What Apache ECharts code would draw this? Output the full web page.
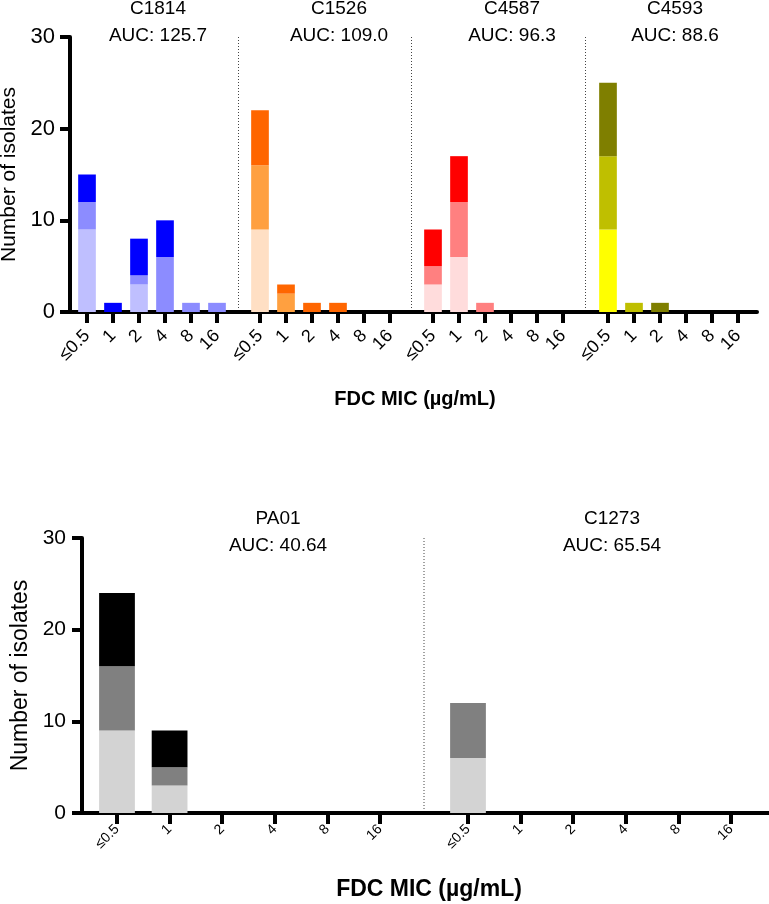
<!DOCTYPE html>
<html>
<head>
<meta charset="utf-8">
<script src="https://cdn.jsdelivr.net/npm/echarts@6/dist/echarts.min.js"></script>
<style>html,body{margin:0;padding:0;background:#fff;}#c{width:769px;height:904px;}</style>
</head>
<body>
<div id="c"></div>
<script>
// ---------- data ----------
var micCategories = ['≤0.5', '1', '2', '4', '8', '16'];
var yTicks = [0, 10, 20, 30];

var topStrains = ['C1814', 'C1526', 'C4587', 'C4593'];
var topAUC = ['125.7', '109.0', '96.3', '88.6'];
// three stacked layers per strain (light, medium, dark)
var c1814Light = [9, 0, 3, 0, 0, 0];
var c1814Mid   = [3, 0, 1, 6, 1, 1];
var c1814Dark  = [3, 1, 4, 4, 0, 0];
var c1526Light = [9, 0, 0, 0, 0, 0];
var c1526Mid   = [7, 2, 0, 0, 0, 0];
var c1526Dark  = [6, 1, 1, 1, 0, 0];
var c4587Light = [3, 6, 0, 0, 0, 0];
var c4587Mid   = [2, 6, 1, 0, 0, 0];
var c4587Dark  = [4, 5, 0, 0, 0, 0];
var c4593Light = [9, 0, 0, 0, 0, 0];
var c4593Mid   = [8, 1, 0, 0, 0, 0];
var c4593Dark  = [8, 0, 1, 0, 0, 0];

var bottomStrains = ['PA01', 'C1273'];
var bottomAUC = ['40.64', '65.54'];
var pa01Light  = [9, 3, 0, 0, 0, 0];
var pa01Mid    = [7, 2, 0, 0, 0, 0];
var pa01Dark   = [8, 4, 0, 0, 0, 0];
var c1273Light = [6, 0, 0, 0, 0, 0];
var c1273Mid   = [6, 0, 0, 0, 0, 0];
var c1273Dark  = [0, 0, 0, 0, 0, 0];

var topLayers = [
  [c1814Light, c1814Mid, c1814Dark],
  [c1526Light, c1526Mid, c1526Dark],
  [c4587Light, c4587Mid, c4587Dark],
  [c4593Light, c4593Mid, c4593Dark]
];
var bottomLayers = [
  [pa01Light, pa01Mid, pa01Dark],
  [c1273Light, c1273Mid, c1273Dark]
];

// ---------- styles ----------
var topColors = [
  ['#bfbfff', '#8c8cff', '#0000ff'],
  ['#ffdfc4', '#ffa040', '#ff6600'],
  ['#ffdcdc', '#ff8080', '#ff0000'],
  ['#ffff00', '#bfbf00', '#7f7f00']
];
var bottomColors = [
  ['#d3d3d3', '#808080', '#000000'],
  ['#d3d3d3', '#808080', '#000000']
];
var FONT = 'Liberation Sans, Arial, sans-serif';

// layout
var TOP = {axisX: 70, right: 757, yTop: 37, base: 312, panelLefts: [74, 247, 420, 595], panelW: 156,
           titleX: [153, 334, 507, 670], titleY: -10, titleSize: 19,
           labelSize: 18, labelMargin: 21, tickLen: 11,
           yLabelSize: 22, yLabelMargin: 15, yNameSize: 21, yNameGap: 49,
           xName: 'FDC MIC (µg/mL)', xNameX: 410, xNameY: 384, xNameSize: 20};
var BOT = {axisX: 82, right: 769, yTop: 538, base: 813, panelLefts: [90.7, 441.7], panelW: 315.6,
           titleX: [273, 607], titleY: 500, titleSize: 19,
           labelSize: 14, labelMargin: 14, tickLen: 11,
           yLabelSize: 21, yLabelMargin: 16, yNameSize: 23, yNameGap: 50,
           xName: 'FDC MIC (µg/mL)', xNameX: 424, xNameY: 873, xNameSize: 23};

var grids = [], xAxes = [], yAxes = [], series = [], titles = [], graphics = [];

function addBlock(L, strains, aucs, layers, colors) {
  var h = L.base - L.yTop;
  // main frame grid with y axis and continuous baseline
  var gi = grids.length;
  grids.push({left: L.axisX, top: L.yTop, width: L.right - L.axisX, height: h, outerBoundsMode: 'none', containLabel: false});
  xAxes.push({gridIndex: gi, type: 'category', data: [''], axisTick: {show: false}, axisLabel: {show: false},
              axisLine: {lineStyle: {color: '#000', width: 4}}});
  yAxes.push({gridIndex: gi, type: 'value', min: yTicks[0], max: yTicks[yTicks.length - 1], interval: yTicks[1] - yTicks[0],
              splitLine: {show: false},
              axisLine: {show: true, lineStyle: {color: '#000', width: 4}},
              axisTick: {show: true, inside: false, length: 10, lineStyle: {color: '#000', width: 4}},
              axisLabel: {fontSize: L.yLabelSize, color: '#000', fontFamily: FONT, margin: L.yLabelMargin},
              name: 'Number of isolates', nameLocation: 'middle', nameGap: L.yNameGap,
              nameTextStyle: {fontSize: L.yNameSize, color: '#000', fontFamily: FONT}});
  series.push({type: 'bar', xAxisIndex: gi, yAxisIndex: gi, data: [], silent: true});
  // panels
  strains.forEach(function (s, p) {
    var pi = grids.length;
    grids.push({left: L.panelLefts[p], top: L.yTop, width: L.panelW, height: h, outerBoundsMode: 'none', containLabel: false});
    xAxes.push({gridIndex: pi, type: 'category', data: micCategories,
                axisLine: {lineStyle: {color: '#000', width: 4}},
                axisTick: {show: true, alignWithLabel: true, length: L.tickLen, lineStyle: {color: '#000', width: 4}},
                axisLabel: {rotate: 45, fontSize: L.labelSize, color: '#000', fontFamily: FONT, margin: L.labelMargin, interval: 0}});
    yAxes.push({gridIndex: pi, type: 'value', min: yTicks[0], max: yTicks[yTicks.length - 1], show: false, splitLine: {show: false}});
    layers[p].forEach(function (arr, k) {
      series.push({type: 'bar', name: s + '-' + k, xAxisIndex: pi, yAxisIndex: pi, stack: s,
                   data: arr.map(function (v) { return v === 0 ? '-' : v; }),
                   barWidth: '68%', itemStyle: {color: colors[p][k]}, silent: true});
    });
    titles.push({text: s + '\n' + 'AUC: ' + aucs[p], left: L.titleX[p], top: L.titleY, textAlign: 'center',
                 textStyle: {fontSize: L.titleSize, fontWeight: 'normal', color: '#000', fontFamily: FONT, lineHeight: 27, align: 'center'}});
    if (p > 0) {
      var prevEnd = L.panelLefts[p - 1] + L.panelW;
      var x = (prevEnd + L.panelLefts[p]) / 2;
      graphics.push({type: 'line', shape: {x1: x, y1: L.yTop, x2: x, y2: L.base - 2},
                     style: {stroke: '#444', lineWidth: 1, lineDash: [1, 2]}, silent: true});
    }
  });
  titles.push({text: L.xName, left: L.xNameX, top: L.xNameY, textAlign: 'center',
               textStyle: {fontSize: L.xNameSize, fontWeight: 'bold', color: '#000', fontFamily: FONT}});
}

addBlock(TOP, topStrains, topAUC, topLayers, topColors);
addBlock(BOT, bottomStrains, bottomAUC, bottomLayers, bottomColors);

var chart = echarts.init(document.getElementById('c'), null, {renderer: 'canvas'});
chart.setOption({
  animation: false,
  backgroundColor: '#fff',
  title: titles,
  grid: grids,
  xAxis: xAxes,
  yAxis: yAxes,
  series: series,
  graphic: graphics
});
</script>
</body>
</html>
